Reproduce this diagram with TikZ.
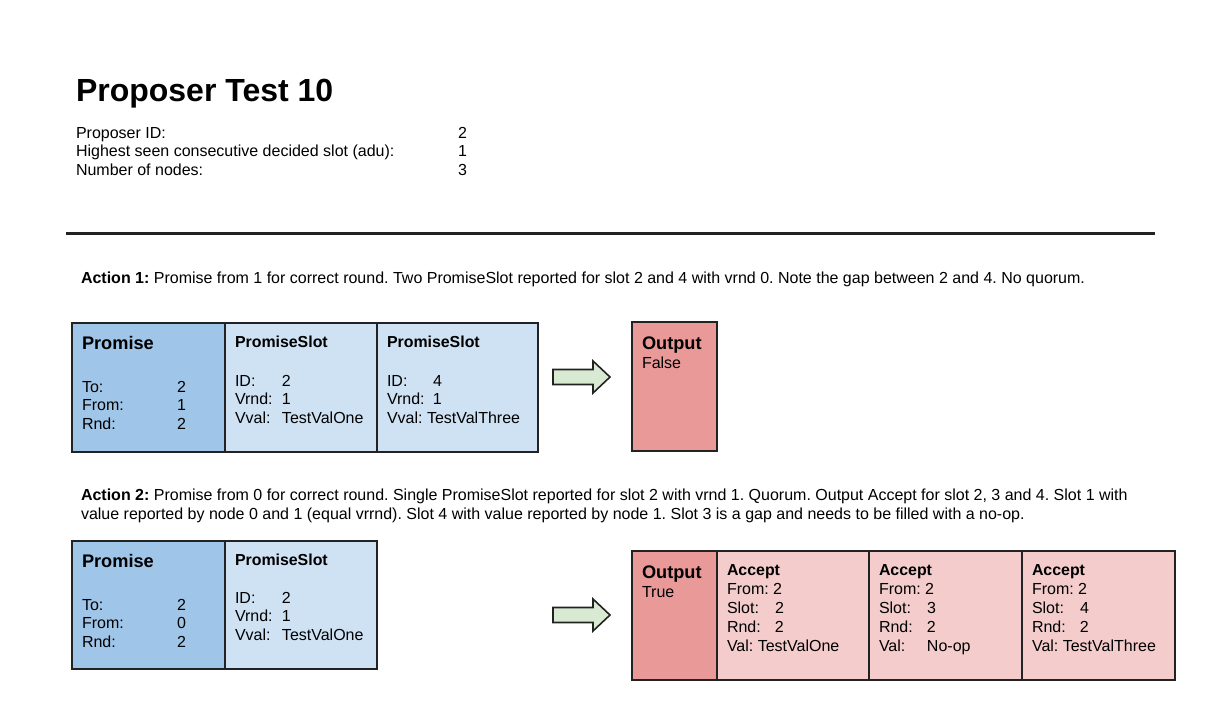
\documentclass[tikz,border=0pt]{standalone}
\usepackage{fontspec}
\setmainfont{Liberation Sans}
\usepackage{array}
\frenchspacing
\definecolor{pdark}{HTML}{9FC5E8}
\definecolor{plight}{HTML}{CFE2F3}
\definecolor{odark}{HTML}{EA9999}
\definecolor{olight}{HTML}{F4CCCC}
\definecolor{agreen}{HTML}{D9EAD3}
\definecolor{edge}{HTML}{222222}
\newcommand{\bodyfont}{\fontsize{16}{18.8}\selectfont}
\newcommand{\kvrows}[2]{\begin{tabular}[t]{@{}p{#1}@{}l@{}}#2\end{tabular}}
\newcommand{\onerow}[1]{\multicolumn{2}{@{}l@{}}{#1}}
\begin{document}
\begin{tikzpicture}[x=1pt,y=-1pt,
  txt/.style={inner sep=0pt,outer sep=0pt,anchor=base west,font=\bodyfont},
  boxtitle/.style={txt,font=\fontsize{18.2}{22}\selectfont\bfseries},
  subtitle/.style={txt,font=\fontsize{15.9}{19}\selectfont\bfseries},
  box/.style={draw=edge,line width=1.6pt,rectangle,inner sep=0pt,outer sep=0pt,anchor=north west,minimum height=129pt},
  fatarrow/.style={draw=edge,line width=1.6pt,fill=agreen,line join=miter}]
\useasboundingbox (0,0) rectangle (1221,705);
% header
\node[txt,font=\fontsize{32}{38}\selectfont\bfseries] (title) at (76,101.7) {Proposer Test 10};
\node[txt] (info) at (76,138) {\begin{tabular}[t]{@{}p{382pt}@{}l@{}}
Proposer ID: & 2\\
Highest seen consecutive decided slot (adu): & 1\\
Number of nodes: & 3
\end{tabular}};
\draw[line width=3pt,edge] (66,233) coordinate (rulea) -- (1155,233) coordinate (ruleb);
% action 1
\node[txt] (act1) at (81,283.7) {\textbf{Action 1:} Promise from 1 for correct round. Two PromiseSlot reported for slot 2 and 4 with vrnd 0. Note the gap between 2 and 4. No quorum.};
\node[box,fill=pdark,minimum width=153pt] (p1) at (72,323) {};
\node[box,fill=plight,minimum width=152pt] (s1a) at (225,323) {};
\node[box,fill=plight,minimum width=161pt] (s1b) at (377,323) {};
\node[box,fill=odark,minimum width=85pt] (o1) at (632,322) {};
\node[boxtitle] (p1t) at ([shift={(10,26.5)}]p1.north west) {Promise};
\node[txt] (p1b) at ([shift={(10,69)}]p1.north west) {\kvrows{95pt}{To: & 2\\ From: & 1\\ Rnd: & 2}};
\node[subtitle] (s1at) at ([shift={(10,24.7)}]s1a.north west) {PromiseSlot};
\node[txt] (s1ab) at ([shift={(10,63)}]s1a.north west) {\kvrows{47pt}{ID: & 2\\ Vrnd: & 1\\ Vval: & TestValOne}};
\node[subtitle] (s1bt) at ([shift={(10,24.7)}]s1b.north west) {PromiseSlot};
\node[txt] (s1bb) at ([shift={(10,63)}]s1b.north west) {\kvrows{46pt}{ID: & 4\\ Vrnd: & 1\\ \onerow{Vval: TestValThree}}};
\node[boxtitle] (o1t) at ([shift={(10,27.5)}]o1.north west) {Output};
\node[txt] (o1b) at ([shift={(10,46.7)}]o1.north west) {False};
\coordinate (arr1) at (553,377);
\draw[fatarrow] (arr1) ++(0,-7.5) -- ++(40,0) -- ++(0,-8.5) -- ++(17,16) -- ++(-17,16) -- ++(0,-8.5) -- ++(-40,0) -- cycle;
% action 2
\node[txt] (act2) at (81,500.7) {\begin{tabular}[t]{@{}l@{}}\textbf{Action 2:} Promise from 0 for correct round. Single PromiseSlot reported for slot 2 with vrnd 1. Quorum. Output Accept for slot 2, 3 and 4. Slot 1 with\\
value reported by node 0 and 1 (equal vrrnd). Slot 4 with value reported by node 1. Slot 3 is a gap and needs to be filled with a no-op.\end{tabular}};
\node[box,fill=pdark,minimum width=153pt,minimum height=128pt] (p2) at (72,541) {};
\node[box,fill=plight,minimum width=152pt,minimum height=128pt] (s2) at (225,541) {};
\node[boxtitle] (p2t) at ([shift={(10,26.5)}]p2.north west) {Promise};
\node[txt] (p2b) at ([shift={(10,69)}]p2.north west) {\kvrows{95pt}{To: & 2\\ From: & 0\\ Rnd: & 2}};
\node[subtitle] (s2t) at ([shift={(10,24.7)}]s2.north west) {PromiseSlot};
\node[txt] (s2b) at ([shift={(10,62)}]s2.north west) {\kvrows{47pt}{ID: & 2\\ Vrnd: & 1\\ Vval: & TestValOne}};
\coordinate (arr2) at (553,615);
\draw[fatarrow] (arr2) ++(0,-7.5) -- ++(40,0) -- ++(0,-8.5) -- ++(17,16) -- ++(-17,16) -- ++(0,-8.5) -- ++(-40,0) -- cycle;
\node[box,fill=odark,minimum width=85pt] (o2) at (632,551) {};
\node[box,fill=olight,minimum width=152pt] (a1) at (717,551) {};
\node[box,fill=olight,minimum width=153pt] (a2) at (869,551) {};
\node[box,fill=olight,minimum width=153pt] (a3) at (1022,551) {};
\node[boxtitle] (o2t) at ([shift={(10,27.5)}]o2.north west) {Output};
\node[txt] (o2b) at ([shift={(10,46.7)}]o2.north west) {True};
\node[subtitle] (a1t) at ([shift={(10,24.7)}]a1.north west) {Accept};
\node[txt] (a1b) at ([shift={(10,43.7)}]a1.north west) {\kvrows{48pt}{\onerow{From: 2}\\ Slot: & 2\\ Rnd: & 2\\ \onerow{Val: TestValOne}}};
\node[subtitle] (a2t) at ([shift={(10,24.7)}]a2.north west) {Accept};
\node[txt] (a2b) at ([shift={(10,43.7)}]a2.north west) {\kvrows{48pt}{\onerow{From: 2}\\ Slot: & 3\\ Rnd: & 2\\ Val: & No-op}};
\node[subtitle] (a3t) at ([shift={(10,24.7)}]a3.north west) {Accept};
\node[txt] (a3b) at ([shift={(10,43.7)}]a3.north west) {\kvrows{48pt}{\onerow{From: 2}\\ Slot: & 4\\ Rnd: & 2\\ \onerow{Val: TestValThree}}};
\end{tikzpicture}
\end{document}
